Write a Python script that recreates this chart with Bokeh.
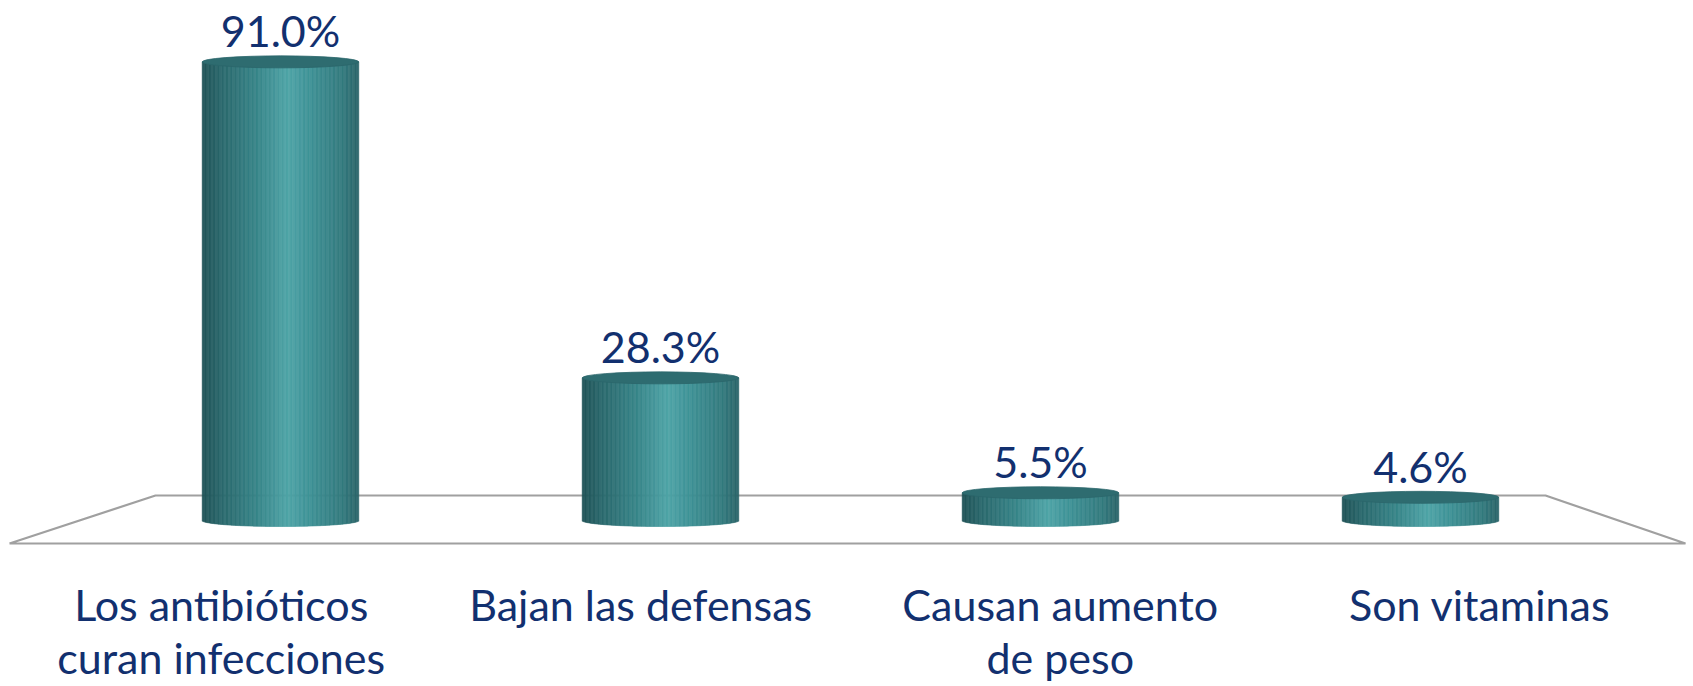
import numpy as np
from bokeh.plotting import figure
from bokeh.models import Range1d, ColumnDataSource
from bokeh.core.properties import value
from bokeh.embed import file_html
from bokeh.resources import INLINE

# ---- data ----
categories = ["Los antibióticos\ncuran infecciones", "Bajan las defensas",
              "Causan aumento\nde peso", "Son vitaminas"]
values = [91.0, 28.3, 5.5, 4.6]
value_labels = ["91.0%", "28.3%", "5.5%", "4.6%"]

# ---- styling / geometry constants ----
W, H = 1693, 686
Y0 = 520            # pixel row of the 0 % level
X0 = 280            # pixel column of the first category
PXY = 5.04          # pixels per percent
PXX = 380.0         # pixels per category
FONT = "Lato"
TEXT_COLOR = "#12306f"
TXT_FIX = 15 / PXY  # baseline correction for the svg text renderer
R = 0.206           # cylinder radius (category units)
RY = 6.0 / PXY      # ellipse half height (percent units)
NSTRIP = 120

p = figure(width=W, height=H, output_backend="svg", toolbar_location=None,
           x_axis_type=None, y_axis_type=None, min_border=0,
           x_range=Range1d(-X0 / PXX, (W - X0) / PXX),
           y_range=Range1d(-(H - Y0) / PXY, Y0 / PXY))
p.outline_line_color = None
p.background_fill_color = "white"
p.border_fill_color = "white"

# ---- floor (perspective plane) ----
n = len(categories)
back_y, front_y = 25 / PXY, -23 / PXY
back_l, back_r = -125 / PXX, n - 1 + 125 / PXX
front_l, front_r = -271 / PXX, n - 1 + 265 / PXX
p.line([front_l, back_l, back_r, front_r, front_l],
       [front_y, back_y, back_y, front_y, front_y],
       line_color="#a0a0a0", line_width=2.2)

# ---- cylinder bodies (gradient made from thin strips) ----
stops_u = [-1.0, -0.75, -0.3, 0.1, 0.35, 0.8, 1.0]
stops_c = ["#1f5256", "#2a686c", "#378589", "#4fa4a7", "#3f9397", "#337a7e", "#2a6468"]
stops_rgb = np.array([[int(c[i:i + 2], 16) for i in (1, 3, 5)] for c in stops_c], float)

def grad(u):
    rgb = [np.interp(u, stops_u, stops_rgb[:, k]) for k in range(3)]
    return "#%02x%02x%02x" % tuple(int(round(v)) for v in rgb)

L, Rt, T, B, C = [], [], [], [], []
edges = np.linspace(-1, 1, NSTRIP + 1)
for i, v in enumerate(values):
    for j in range(NSTRIP):
        u0, u1 = edges[j], edges[j + 1]
        um = 0.5 * (u0 + u1)
        L.append(i + u0 * R)
        Rt.append(i + u1 * R)
        T.append(v)
        B.append(-RY * np.sqrt(max(0.0, 1 - um * um)))
        C.append(grad(um))
src = ColumnDataSource(dict(left=L, right=Rt, top=T, bottom=B, color=C))
p.quad(left="left", right="right", top="top", bottom="bottom", source=src,
       fill_color="color", line_color="color", line_width=0.6)

# ---- cylinder tops ----
xs = list(range(n))
p.ellipse(x=xs, y=values, width=2 * R, height=2 * RY,
          fill_color="#2e6c70", line_color="#2b666b", line_width=0.8)

# ---- value labels ----
p.text(x=xs, y=[v + 16 / PXY + TXT_FIX for v in values], text=value_labels,
       text_font=value(FONT), text_font_size="43px", text_color=TEXT_COLOR,
       text_align="center", text_baseline="alphabetic")

# ---- category labels (on the front edge of the floor) ----
lx, ly, lt = [], [], []
mid = (n - 1) / 2
for i, cat in enumerate(categories):
    for k, line in enumerate(cat.split("\n")):
        lx.append(mid + 1.104 * (i - mid))
        ly.append((-99 - 53 * k) / PXY + TXT_FIX)
        lt.append(line)
p.text(x=lx, y=ly, text=lt, text_font=value(FONT), text_font_size="43px",
       text_color=TEXT_COLOR, text_align="center", text_baseline="alphabetic")

open("out.html", "w").write(file_html(p, INLINE))
